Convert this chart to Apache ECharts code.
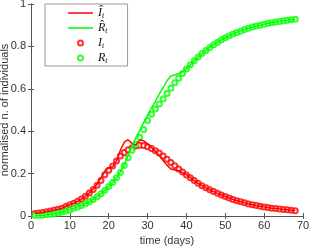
<!DOCTYPE html>
<html>
<head>
<meta charset="utf-8">
<script src="https://cdn.jsdelivr.net/npm/echarts@6/dist/echarts.min.js"></script>
<style>html,body{margin:0;padding:0;background:#fff}#c{width:309px;height:247px}</style>
</head>
<body>
<div id="c"></div>
<script>
const days = [];
for (let d = 1; d <= 68; d++) days.push(d);

const xTicks = [0, 10, 20, 30, 40, 50, 60, 70];
const yTicks = [0, 0.2, 0.4, 0.6, 0.8, 1];

const iObs = [0.012,0.014,0.017,0.020,0.024,0.028,0.032,0.037,0.046,0.053,0.060,0.069,0.080,0.093,0.108,0.125,0.145,0.168,0.195,0.216,0.236,0.260,0.283,0.300,0.312,0.322,0.330,0.334,0.332,0.327,0.318,0.308,0.297,0.283,0.268,0.252,0.237,0.222,0.207,0.193,0.180,0.167,0.154,0.143,0.133,0.124,0.115,0.107,0.099,0.092,0.085,0.078,0.072,0.067,0.062,0.057,0.053,0.049,0.046,0.043,0.040,0.037,0.035,0.033,0.031,0.029,0.027,0.025];

const rObs = [0.002,0.003,0.004,0.006,0.008,0.011,0.014,0.019,0.024,0.030,0.036,0.043,0.050,0.058,0.067,0.078,0.091,0.105,0.121,0.139,0.158,0.180,0.205,0.238,0.275,0.310,0.338,0.372,0.408,0.450,0.480,0.505,0.528,0.552,0.578,0.603,0.628,0.650,0.672,0.693,0.713,0.732,0.750,0.766,0.781,0.795,0.808,0.820,0.831,0.841,0.850,0.858,0.866,0.873,0.880,0.886,0.891,0.896,0.900,0.905,0.909,0.912,0.915,0.918,0.921,0.923,0.926,0.928];

const iHat = [0.012,0.014,0.017,0.020,0.024,0.028,0.032,0.037,0.046,0.053,0.060,0.069,0.080,0.093,0.108,0.127,0.150,0.180,0.212,0.228,0.232,0.260,0.310,0.348,0.360,0.342,0.335,0.358,0.355,0.340,0.322,0.305,0.285,0.262,0.240,0.222,0.217,0.213,0.205,0.195,0.181,0.167,0.154,0.143,0.133,0.124,0.115,0.107,0.099,0.092,0.085,0.078,0.072,0.067,0.062,0.057,0.053,0.049,0.046,0.043,0.040,0.037,0.035,0.033,0.031,0.029,0.027,0.025];

const rHat = [0.002,0.003,0.004,0.006,0.008,0.011,0.014,0.019,0.024,0.030,0.036,0.043,0.050,0.058,0.067,0.078,0.091,0.105,0.121,0.139,0.158,0.180,0.208,0.242,0.285,0.330,0.370,0.405,0.440,0.475,0.510,0.540,0.575,0.605,0.638,0.660,0.665,0.672,0.680,0.695,0.713,0.732,0.750,0.766,0.781,0.795,0.808,0.820,0.831,0.841,0.850,0.858,0.866,0.873,0.880,0.886,0.891,0.896,0.900,0.905,0.909,0.912,0.915,0.918,0.921,0.923,0.926,0.928];

const pair = (xs, ys) => xs.map((x, i) => [x, ys[i]]);

const axisCol = '#555';
const labelCol = '#333';
const font = 'Liberation Sans, Arial, sans-serif';
const mathFont = 'Liberation Serif, DejaVu Serif, serif';

const chart = echarts.init(document.getElementById('c'), null, {renderer: 'canvas'});

const baseX = {
  type: 'value', min: xTicks[0], max: xTicks[xTicks.length - 1], interval: 10,
  axisLine: {show: true, lineStyle: {color: axisCol, width: 1}},
  axisTick: {show: true, inside: true, length: 3, lineStyle: {color: axisCol}},
  splitLine: {show: false}
};
const baseY = {
  type: 'value', min: yTicks[0], max: yTicks[yTicks.length - 1], interval: 0.2,
  axisLine: {show: true, lineStyle: {color: axisCol, width: 1}},
  axisTick: {show: true, inside: true, length: 3, lineStyle: {color: axisCol}},
  splitLine: {show: false}
};

const legendText = {
  'Ihat': '{m|Î}{s|t}',
  'Rhat': '{m|R\u0302}{s|t}',
  'I': '{m|I}{s|t}',
  'R': '{m|R}{s|t}'
};
const lineIcon = 'path://M0,0 L40,0 L40,2.4 L0,2.4 Z';

chart.setOption({
  animation: false,
  grid: {left: 31, right: 6, top: 4, bottom: 31, containLabel: false, outerBoundsMode: 'none'},
  xAxis: [
    Object.assign({}, baseX, {
      position: 'bottom',
      name: 'time (days)', nameLocation: 'middle', nameGap: 16,
      nameTextStyle: {color: labelCol, fontFamily: font, fontSize: 11},
      axisLabel: {color: labelCol, fontFamily: font, fontSize: 11, margin: 4}
    }),
    Object.assign({}, baseX, {position: 'top', axisLabel: {show: false}})
  ],
  yAxis: [
    Object.assign({}, baseY, {
      position: 'left',
      name: 'normalised n. of individuals', nameLocation: 'middle', nameGap: 21,
      nameMoveOverlap: false,
      nameTextStyle: {color: labelCol, fontFamily: font, fontSize: 11},
      axisLabel: {color: labelCol, fontFamily: font, fontSize: 11, margin: 5,
        formatter: v => String(Math.round(v * 10) / 10)}
    }),
    Object.assign({}, baseY, {position: 'right', axisLabel: {show: false}})
  ],
  legend: {
    orient: 'vertical', left: 45, top: 4,
    padding: [2, 20, 1, 23],
    itemWidth: 25, itemHeight: 5, itemGap: 1,
    backgroundColor: '#fff', borderColor: '#999', borderWidth: 1,
    data: [
      {name: 'Ihat', icon: lineIcon, itemStyle: {color: '#ff0000'}},
      {name: 'Rhat', icon: lineIcon, itemStyle: {color: '#00ff00'}},
      {name: 'I'},
      {name: 'R'}
    ],
    formatter: n => legendText[n],
    textStyle: {
      lineHeight: 14,
      rich: {
        m: {fontFamily: mathFont, fontStyle: 'italic', fontSize: 12, color: '#111', lineHeight: 14},
        s: {fontFamily: mathFont, fontStyle: 'italic', fontSize: 8, color: '#111', lineHeight: 14, padding: [5, 0, 0, 0]}
      }
    }
  },
  series: [
    {name: 'Ihat', type: 'line', data: pair(days, iHat), symbol: 'none', showSymbol: false,
      lineStyle: {color: '#ff0000', width: 1.5}, itemStyle: {color: '#ff0000'}, z: 3},
    {name: 'Rhat', type: 'line', data: pair(days, rHat), symbol: 'none', showSymbol: false,
      lineStyle: {color: '#00ff00', width: 1.5}, itemStyle: {color: '#00ff00'}, z: 3},
    {name: 'I', type: 'scatter', data: pair(days, iObs), symbol: 'emptyCircle', symbolSize: 5,
      itemStyle: {color: '#ff0000', borderColor: '#ff0000', borderWidth: 1.3}, z: 2},
    {name: 'R', type: 'scatter', data: pair(days, rObs), symbol: 'emptyCircle', symbolSize: 5,
      itemStyle: {color: '#00ff00', borderColor: '#00ff00', borderWidth: 1.3}, z: 2}
  ]
});
</script>
</body>
</html>
